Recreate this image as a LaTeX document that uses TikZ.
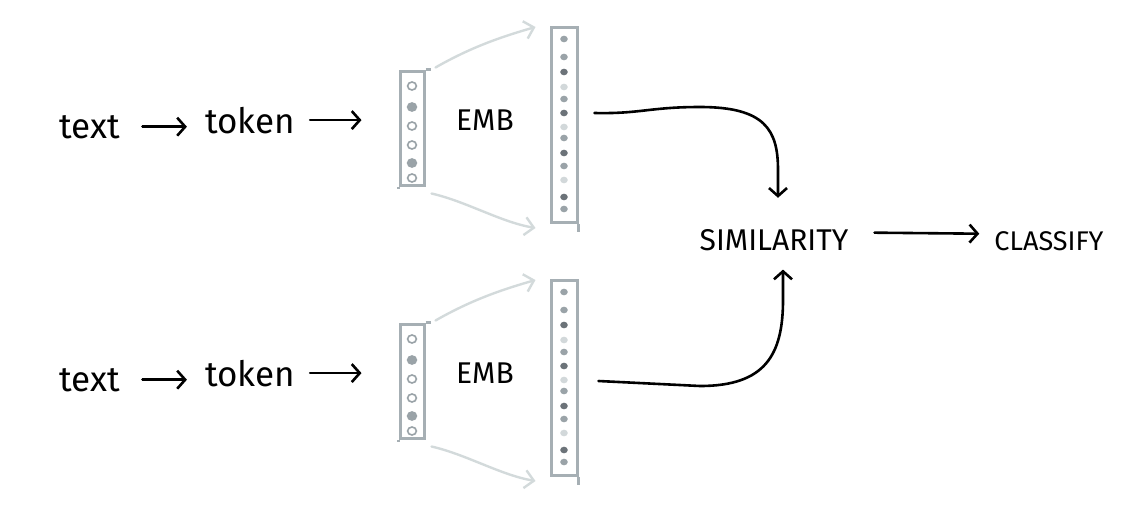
\documentclass[tikz,border=0pt]{standalone}
\usepackage{fontspec}
\setmainfont{Fira Sans}
\usetikzlibrary{arrows.meta}
\definecolor{boxgrey}{HTML}{A6AFB4}
\definecolor{fadegrey}{HTML}{D3DADB}
\definecolor{dotmid}{HTML}{9AA3A8}
\definecolor{dotdark}{HTML}{6C7379}
\definecolor{dotlight}{HTML}{D2D8DA}
\tikzset{
  ink/.style={line width=2.6pt, line cap=round, line join=round, black},
  inkarrow/.style={ink, -{Straight Barb[length=8pt,width=18pt,line width=2.6pt]}},
  fadearrow/.style={line width=2.4pt, line cap=round, fadegrey, -{Straight Barb[length=9pt,width=18pt,line width=2.4pt]}},
  word/.style={inner sep=0pt, anchor=base, font=\fontsize{35}{35}\selectfont},
  caps/.style={inner sep=0pt, anchor=base},
  tokbox/.style={draw=boxgrey, line width=3pt, minimum width=24pt, minimum height=114pt, inner sep=0pt},
  vecbox/.style={draw=boxgrey, line width=3pt, minimum width=26pt, minimum height=195pt, inner sep=0pt},
  boxedge/.style={draw=boxgrey, line width=3pt},
  ring/.style={draw=dotmid, line width=1.6pt},
}
\begin{document}
\begin{tikzpicture}[x=1pt,y=-1pt]
\useasboundingbox (0,0) rectangle (1135,504);

% two encoder branches: text -> token -> token box -> EMB -> vector box
\foreach \r/\dy in {a/0, b/253}{
  \node[word] (text\r) at (90,138+\dy) {text};
  \node[word] (token\r) at (250,133+\dy) {token};
  \node[tokbox] (tok\r) at (412,128+\dy) {};
  \node[caps, font=\fontsize{30}{30}\selectfont] (emb\r) at (485,130+\dy) {EMB};
  \node[vecbox] (vec\r) at (564,125+\dy) {};

  % sketchy overshoots at the box corners
  \draw[boxedge] (tok\r.north east) -- ++(5,0);
  \draw[boxedge] (tok\r.south west) -- ++(0,2);
  \draw[boxedge] (vec\r.south east) -- ++(0,8);

  % token slots: rings, two of them filled
  \foreach \oy/\f in {-42/white, -21/dotmid, -2/white, 17/white, 35/dotmid, 50/white}
    \draw[ring, fill=\f] ([yshift=-\oy pt]tok\r.center) ellipse (4.4pt and 4pt);

  % embedding vector entries
  \foreach \oy/\c in {-86/dotmid, -68/dotmid, -53/dotdark, -38/dotlight, -26/dotmid,
                      -12/dotdark, 2/dotlight, 13/dotmid, 28/dotdark, 41/dotmid,
                      55/dotlight, 72/dotdark, 84/dotmid}
    \fill[\c] ([yshift=-\oy pt]vec\r.center) ellipse (3.8pt and 3.3pt);

  % pipeline arrows
  \draw[inkarrow] ([xshift=22pt]text\r.east) -- ([xshift=-18pt]token\r.west |- text\r.east);
  \draw[inkarrow] ([xshift=15pt]token\r.east) -- ([xshift=-37pt]tok\r.west |- token\r.east);

  % faint expansion arrows from token box to vector box
  \draw[fadearrow] ([xshift=10pt,yshift=2pt]tok\r.north east)
     .. controls +(35,-20) and +(-35,10) .. ([xshift=-14pt,yshift=-1pt]vec\r.north west);
  \draw[fadearrow] ([xshift=6pt,yshift=-7pt]tok\r.south east)
     .. controls +(35,8) and +(-35,-6) .. ([xshift=-14pt,yshift=-4pt]vec\r.south west);
}

\node[caps, font=\fontsize{30}{30}\selectfont] (sim) at (774,250) {SIMILARITY};
\node[caps, font=\fontsize{27}{27}\selectfont] (cls) at (1049,250) {CLASSIFY};

\coordinate (outa) at ([xshift=16pt,yshift=12pt]veca.east);
\coordinate (outb) at ([xshift=20pt,yshift=-3pt]vecb.east);

% both vectors feed the similarity score
\draw[inkarrow] (outa) .. controls (640,114) and (650,107) .. (700,107)
   .. controls (765,107) and (778,130) .. (778,170) -- ([xshift=4pt,yshift=31pt]sim.north);
\draw[inkarrow] (outb) -- (700,386) .. controls (765,386) and (783,355) .. (783,300)
   -- ([xshift=9pt,yshift=-19pt]sim.south);

\draw[inkarrow] ([xshift=26pt,yshift=7pt]sim.east) -- ([xshift=-15pt,yshift=7pt]cls.west);
\end{tikzpicture}
\end{document}
